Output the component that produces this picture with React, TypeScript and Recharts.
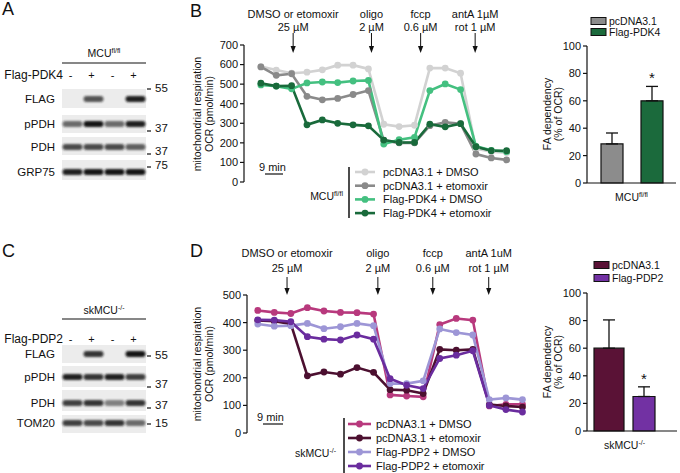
import React from 'react'
import {
  LineChart,
  Line,
  XAxis,
  YAxis,
  ReferenceLine,
  Legend,
  BarChart,
  Bar,
  ErrorBar,
} from 'recharts'

const FONT = 'Arial, "Liberation Sans", Helvetica, sans-serif'
const INK = '#111'

// seahorse measurement cycles
const timePoints = [1, 2, 3, 4, 5, 6, 7, 8, 9, 10, 11, 12, 13, 14, 15, 16, 17]

// B: MCU fl/fl myotubes, OCR (pmol/min)
const ocrB_pcDmso = [590, 572, 556, 561, 573, 597, 597, 578, 295, 283, 290, 582, 582, 556, 170, 155, 150]
const ocrB_pcEto = [588, 545, 553, 438, 420, 427, 447, 467, 212, 200, 200, 288, 305, 298, 143, 123, 113]
const ocrB_pdkDmso = [496, 490, 476, 506, 511, 508, 516, 519, 194, 216, 228, 467, 501, 472, 182, 162, 155]
const ocrB_pdkEto = [505, 490, 492, 292, 317, 300, 292, 287, 214, 202, 202, 295, 282, 298, 180, 160, 160]

// D: skMCU-/- myotubes, OCR (pmol/min)
const ocrD_pcDmso = [444, 437, 433, 454, 442, 437, 436, 431, 138, 134, 131, 393, 415, 409, 98, 104, 104]
const ocrD_pcEto = [408, 405, 395, 207, 221, 213, 237, 220, 157, 155, 143, 303, 300, 303, 103, 98, 94]
const ocrD_pdpDmso = [395, 387, 389, 397, 378, 385, 397, 389, 179, 179, 189, 377, 364, 355, 121, 127, 121]
const ocrD_pdpEto = [410, 409, 403, 349, 340, 337, 355, 340, 197, 173, 161, 270, 282, 298, 100, 85, 76]

const ocrTicksB = [0, 100, 200, 300, 400, 500, 600, 700]
const ocrTicksD = [0, 100, 200, 300, 400, 500]
const faTicks = [0, 20, 40, 60, 80, 100]

// FA dependency (% of OCR), mean and upper error
const faMeansB = [28.5, 60]
const faErrB = [8, 10.5]
const faMeansD = [60, 25]
const faErrD = [20.5, 7]

const injectionsB = [
  { x: 3.1, top: 'DMSO or etomoxir', bottom: '25 µM' },
  { x: 8.2, top: 'oligo', bottom: '2 µM' },
  { x: 11.4, top: 'fccp', bottom: '0.6 µM' },
  { x: 14.95, top: 'antA 1µM', bottom: 'rot 1 µM' },
]
const injectionsD = [
  { x: 2.77, top: 'DMSO or etomoxir', bottom: '25 µM' },
  { x: 8.26, top: 'oligo', bottom: '2 µM' },
  { x: 11.58, top: 'fccp', bottom: '0.6 µM' },
  { x: 14.96, top: 'antA 1uM', bottom: 'rot 1 µM' },
]

const seriesB = [
  { key: 'pcDmso', name: 'pcDNA3.1 + DMSO', color: '#d2d2d2', values: ocrB_pcDmso },
  { key: 'pcEto', name: 'pcDNA3.1 + etomoxir', color: '#8a8a8a', values: ocrB_pcEto },
  { key: 'pdkDmso', name: 'Flag-PDK4 + DMSO', color: '#44c080', values: ocrB_pdkDmso },
  { key: 'pdkEto', name: 'Flag-PDK4 + etomoxir', color: '#196a3b', values: ocrB_pdkEto },
]
const seriesD = [
  { key: 'pcDmso', name: 'pcDNA3.1 + DMSO', color: '#b8397d', values: ocrD_pcDmso },
  { key: 'pcEto', name: 'pcDNA3.1 + etomoxir', color: '#4c1030', values: ocrD_pcEto },
  { key: 'pdpDmso', name: 'Flag-PDP2 + DMSO', color: '#9d96d6', values: ocrD_pdpDmso },
  { key: 'pdpEto', name: 'Flag-PDP2 + etomoxir', color: '#6a2c9e', values: ocrD_pdpEto },
]

const barsB = [
  { key: 'ctrl', name: 'pcDNA3.1', color: '#8c8c8c' },
  { key: 'treat', name: 'Flag-PDK4', color: '#1b6a3c' },
]
const barsD = [
  { key: 'ctrl', name: 'pcDNA3.1', color: '#5a1236' },
  { key: 'treat', name: 'Flag-PDP2', color: '#7231a3' },
]

// western blots: lane intensity per row (0 = no band)
const lanes = ['-', '+', '-', '+']
const blotA = [
  { label: 'FLAG', bands: [0, 0.7, 0, 0.95] },
  { label: 'pPDH', bands: [0.6, 1, 0.6, 0.95] },
  { label: 'PDH', bands: [0.75, 0.75, 0.75, 0.65] },
  { label: 'GRP75', bands: [0.95, 1, 1, 1] },
]
const blotC = [
  { label: 'FLAG', bands: [0, 0.85, 0, 1] },
  { label: 'pPDH', bands: [0.95, 0.85, 0.95, 0.8] },
  { label: 'PDH', bands: [0.8, 0.85, 0.5, 0.85] },
  { label: 'TOM20', bands: [0.8, 0.75, 0.85, 0.6] },
]
const markersA = ['55', '37', '37', '75']
const markersC = ['55', '37', '37', '15']

const ocrTitle = ['mitochondrial respiration', 'OCR (pmol/min)']
const faTitle = ['FA dependency', '(% of OCR)']

const toRows = (series: any[]) =>
  timePoints.map((t, i) => {
    const row: any = { t }
    series.forEach((s) => (row[s.key] = s.values[i]))
    return row
  })

// rotated two-line axis title, drawn in page coordinates
function AxisTitle({ lines, xs, cy }: { lines: string[]; xs: number[]; cy: number }) {
  return (
    <g fontFamily={FONT} fontSize={10.5} fill={INK}>
      {lines.map((ln, i) => (
        <text
          key={i}
          x={xs[i]}
          y={cy}
          transform={`rotate(-90 ${xs[i]} ${cy})`}
          textAnchor="middle"
          dominantBaseline="central"
        >
          {ln}
        </text>
      ))}
    </g>
  )
}

const injectionLabel = (inj: any, geo: number[]) => (p: any) => {
  const x = p.viewBox.x
  const t = p.viewBox.y
  const [t1, t2, a0, a1] = geo
  return (
    <g fontFamily={FONT} fontSize={11} fill={INK}>
      <text x={x} y={t + t1} textAnchor="middle">{inj.top}</text>
      <text x={x} y={t + t2} textAnchor="middle">{inj.bottom}</text>
      <line x1={x} x2={x} y1={t + a0} y2={t + a1 - 5} stroke={INK} strokeWidth={1} />
      <polygon points={`${x - 2.6},${t + a1 - 7} ${x + 2.6},${t + a1 - 7} ${x},${t + a1}`} fill={INK} />
    </g>
  )
}

const lineLegend = (series: any[], g: any, group: string[]) => () => (
  <svg width={g.w} height={g.h} style={{ display: 'block', overflow: 'visible' }} fontFamily={FONT}>
    <text x={g.sx} y={g.sy} fontSize={11} fill={INK}>9 min</text>
    <line x1={g.sl0} x2={g.sl1} y1={g.sy + 3} y2={g.sy + 3} stroke={INK} strokeWidth={1.2} />
    <line x1={g.bar} x2={g.bar} y1={g.bar0} y2={g.bar1} stroke={INK} strokeWidth={1.5} />
    {series.map((s, i) => {
      const y = g.row0 + i * g.rowStep
      return (
        <g key={s.key}>
          <line x1={g.m0} x2={g.m1} y1={y} y2={y} stroke={s.color} strokeWidth={2.6} />
          <circle cx={(g.m0 + g.m1) / 2} cy={y} r={3.4} fill={s.color} />
          <text x={g.tx} y={y + 4} fontSize={11} fill={INK}>{s.name}</text>
        </g>
      )
    })}
    <text x={g.gx} y={g.gy + 4} textAnchor="end" fontSize={10.5} fill={INK}>
      {group[0]}
      <tspan dy={-4} fontSize={7}>{group[1]}</tspan>
    </text>
  </svg>
)

function OcrPanel(props: any) {
  const { box, margin, yWidth, xDomain, yMax, yTicks, series, injections, geo, legend, legendPos, group } = props
  const rows = toRows(series)
  return (
    <div style={{ position: 'absolute', left: box[0], top: box[1] }}>
      <LineChart width={box[2]} height={box[3]} data={rows} margin={margin}>
        <XAxis dataKey="t" type="number" domain={xDomain} hide />
        <YAxis
          type="number"
          domain={[0, yMax]}
          ticks={yTicks}
          width={yWidth}
          tickSize={4}
          tickMargin={2}
          tick={{ fontSize: 11, fill: INK, fontFamily: FONT }}
          axisLine={{ stroke: INK, strokeWidth: 1.2 }}
          tickLine={{ stroke: INK, strokeWidth: 1.2 }}
        />
        {injections.map((inj: any, i: number) => (
          <ReferenceLine key={i} x={inj.x} stroke="none" label={injectionLabel(inj, geo)} />
        ))}
        {series.map((s: any) => (
          <Line
            key={s.key}
            dataKey={s.key}
            name={s.name}
            type="linear"
            stroke={s.color}
            strokeWidth={2.6}
            dot={{ r: 3.4, fill: s.color, stroke: s.color, strokeWidth: 0 }}
            activeDot={false}
            isAnimationActive={false}
          />
        ))}
        <Legend
          layout="horizontal"
          align="center"
          verticalAlign="middle"
          content={lineLegend(series, legend, group)}
          wrapperStyle={{ left: legendPos[0], top: legendPos[1], width: legend.w, height: legend.h }}
        />
      </LineChart>
    </div>
  )
}

const barLegend = (bars: any[], g: any) => () => (
  <svg width={g.w} height={g.h} style={{ display: 'block' }} fontFamily={FONT}>
    {bars.map((b, i) => {
      const y = g.row0 + i * g.rowStep
      return (
        <g key={b.key}>
          <rect x={g.bx} y={y - 3.5} width={15} height={7} fill={b.color} stroke={INK} strokeWidth={1} />
          <text x={g.bx + 18} y={y + 4} fontSize={10.5} fill={INK}>{b.name}</text>
        </g>
      )
    })}
  </svg>
)

const groupTick = (group: string[]) => (p: any) => (
  <text x={p.x} y={p.y + 18} textAnchor="middle" fontSize={10.5} fill={INK} fontFamily={FONT}>
    {group[0]}
    <tspan dy={-4} fontSize={7}>{group[1]}</tspan>
  </text>
)

const starLabel = (err: number) => (p: any) => {
  const x = p.x ?? p.viewBox?.x
  const y = p.y ?? p.viewBox?.y
  const w = p.width ?? p.viewBox?.width
  const h = p.height ?? p.viewBox?.height
  const top = y - (h * err) / p.value
  return (
    <text x={x + w / 2} y={top - 3} textAnchor="middle" fontSize={15} fill={INK} fontFamily={FONT}>
      *
    </text>
  )
}

function FaPanel(props: any) {
  const { box, margin, padRight, means, errs, bars, sizes, gap, group, legend, legendPos } = props
  const data = [{ group: group.join(''), ctrl: means[0], ctrlErr: [0, errs[0]], treat: means[1], treatErr: [0, errs[1]] }]
  return (
    <div style={{ position: 'absolute', left: box[0], top: box[1] }}>
      <BarChart width={box[2]} height={box[3]} data={data} margin={margin} barGap={gap}>
        <XAxis
          dataKey="group"
          height={30}
          tickSize={0}
          tickMargin={0}
          tickLine={false}
          padding={{ left: 0, right: padRight }}
          axisLine={{ stroke: INK, strokeWidth: 1.2 }}
          tick={groupTick(group)}
        />
        <YAxis
          type="number"
          domain={[0, 100]}
          ticks={faTicks}
          width={57}
          tickSize={4}
          tickMargin={2}
          tick={{ fontSize: 11, fill: INK, fontFamily: FONT }}
          axisLine={{ stroke: INK, strokeWidth: 1.2 }}
          tickLine={{ stroke: INK, strokeWidth: 1.2 }}
        />
        <Bar dataKey="ctrl" name={bars[0].name} fill={bars[0].color} stroke={INK} strokeWidth={1.2} barSize={sizes[0]} isAnimationActive={false}>
          <ErrorBar dataKey="ctrlErr" direction="y" width={6} stroke={INK} strokeWidth={1.3} />
        </Bar>
        <Bar
          dataKey="treat"
          name={bars[1].name}
          fill={bars[1].color}
          stroke={INK}
          strokeWidth={1.2}
          barSize={sizes[1]}
          isAnimationActive={false}
          label={starLabel(errs[1])}
        >
          <ErrorBar dataKey="treatErr" direction="y" width={6} stroke={INK} strokeWidth={1.3} />
        </Bar>
        <Legend
          layout="horizontal"
          align="center"
          verticalAlign="middle"
          content={barLegend(bars, legend)}
          wrapperStyle={{ left: legendPos[0], top: legendPos[1], width: legend.w, height: legend.h }}
        />
      </BarChart>
    </div>
  )
}

const laneX = [72.5, 93.5, 114.5, 135.5]

function Blot({ rows, layout, markers, head, treatment }: any) {
  return (
    <g fontFamily={FONT} fill={INK}>
      <text x={104} y={layout.head + 4} textAnchor="middle" fontSize={10.5}>
        {head[0]}
        <tspan dy={-4} fontSize={7}>{head[1]}</tspan>
      </text>
      <line x1={62} x2={146} y1={layout.rule} y2={layout.rule} stroke={INK} strokeWidth={1.2} />
      <text x={63} y={layout.signs + 4} textAnchor="end" fontSize={12}>{treatment}</text>
      {lanes.map((s, i) => (
        <text key={i} x={laneX[i] - 2} y={layout.signs + 4} textAnchor="middle" fontSize={11}>{s}</text>
      ))}
      {rows.map((r: any, i: number) => {
        const [top, h, band, dashY, mwY] = layout.rows[i]
        return (
          <g key={r.label + i}>
            <rect x={62} y={top} width={84} height={h} fill="#ececec" />
            {r.bands.map((v: number, j: number) =>
              v > 0 ? (
                <rect
                  key={j}
                  x={laneX[j] - 10}
                  y={band - 3}
                  width={20}
                  height={6}
                  rx={3}
                  fill="#141414"
                  opacity={v}
                  filter="url(#bandBlur)"
                />
              ) : null
            )}
            <text x={55} y={band + 4} textAnchor="end" fontSize={11.5}>{r.label}</text>
            <line x1={147} x2={151} y1={dashY} y2={dashY} stroke={INK} strokeWidth={1.2} />
            <text x={155} y={mwY + 4} fontSize={11.5}>{markers[i]}</text>
          </g>
        )
      })}
    </g>
  )
}

const layoutA = {
  head: 53,
  rule: 63,
  signs: 75,
  rows: [
    [89, 19, 99, 89, 88],
    [115, 18, 124, 131, 128],
    [137, 18, 147, 154, 151],
    [160, 20, 172, 167, 165],
  ],
}
const layoutC = {
  head: 310,
  rule: 319,
  signs: 339,
  rows: [
    [345, 18, 354, 356, 355],
    [366, 21, 377, 387, 384],
    [390, 21, 403, 408, 405],
    [415, 18, 423, 424, 423],
  ],
}

export default function App() {
  return (
    <div
      style={{
        position: 'fixed',
        left: 0,
        top: 0,
        width: 680,
        height: 473,
        background: '#fff',
        fontFamily: FONT,
        overflow: 'hidden',
      }}
    >
      <svg width={680} height={473} style={{ position: 'absolute', left: 0, top: 0 }}>
        <defs>
          <filter id="bandBlur" x="-30%" y="-100%" width="160%" height="300%">
            <feGaussianBlur stdDeviation="1.1" />
          </filter>
        </defs>
        <g fontFamily={FONT} fontSize={18} fill={INK}>
          <text x={2} y={15}>A</text>
          <text x={190} y={17}>B</text>
          <text x={2} y={257}>C</text>
          <text x={190} y={257}>D</text>
        </g>
        <Blot rows={blotA} layout={layoutA} markers={markersA} head={['MCU', 'fl/fl']} treatment="Flag-PDK4" />
        <Blot rows={blotC} layout={layoutC} markers={markersC} head={['skMCU', '-/-']} treatment="Flag-PDP2" />
        <AxisTitle lines={ocrTitle} xs={[197, 209]} cy={114} />
        <AxisTitle lines={ocrTitle} xs={[197, 209]} cy={364} />
        <AxisTitle lines={faTitle} xs={[547, 557.5]} cy={114} />
        <AxisTitle lines={faTitle} xs={[547, 557.5]} cy={362} />
      </svg>

      <OcrPanel
        box={[190, 0, 340, 235]}
        margin={{ top: 45, right: 8, bottom: 53, left: 0 }}
        yWidth={54}
        xDomain={[-0.1, 18]}
        yMax={700}
        yTicks={ocrTicksB}
        series={seriesB}
        injections={injectionsB}
        geo={[-27, -14, -12, 8]}
        group={['MCU', 'fl/fl']}
        legendPos={[60, 155]}
        legend={{ w: 290, h: 70, sx: 9, sy: 16, sl0: 15, sl1: 33, bar: 99, bar0: 12, bar1: 63, row0: 17, rowStep: 13.7, m0: 105, m1: 125, tx: 133, gx: 93, gy: 41 }}
      />
      <OcrPanel
        box={[190, 240, 355, 233]}
        margin={{ top: 55, right: 6, bottom: 40, left: 0 }}
        yWidth={57}
        xDomain={[0.35, 18]}
        yMax={500}
        yTicks={ocrTicksD}
        series={seriesD}
        injections={injectionsD}
        geo={[-38, -23, -18, 0]}
        group={['skMCU', '-/-']}
        legendPos={[60, 170]}
        legend={{ w: 290, h: 70, sx: 7, sy: 11, sl0: 13, sl1: 33, bar: 94, bar0: 8, bar1: 70, row0: 14, rowStep: 14, m0: 98, m1: 121, tx: 126, gx: 86, gy: 43 }}
      />

      <FaPanel
        box={[530, 0, 150, 235]}
        margin={{ top: 46, right: 4, bottom: 22, left: 0 }}
        padRight={0}
        means={faMeansB}
        errs={faErrB}
        bars={barsB}
        sizes={[22, 22]}
        gap={18}
        group={['MCU', 'fl/fl']}
        legendPos={[55, 12]}
        legend={{ w: 95, h: 30, bx: 6, row0: 9, rowStep: 11 }}
      />
      <FaPanel
        box={[530, 240, 150, 233]}
        margin={{ top: 53, right: 3, bottom: 12, left: 0 }}
        padRight={15}
        means={faMeansD}
        errs={faErrD}
        bars={barsD}
        sizes={[30, 22]}
        gap={9}
        group={['skMCU', '-/-']}
        legendPos={[55, 15]}
        legend={{ w: 95, h: 30, bx: 9, row0: 10, rowStep: 13 }}
      />
    </div>
  )
}
